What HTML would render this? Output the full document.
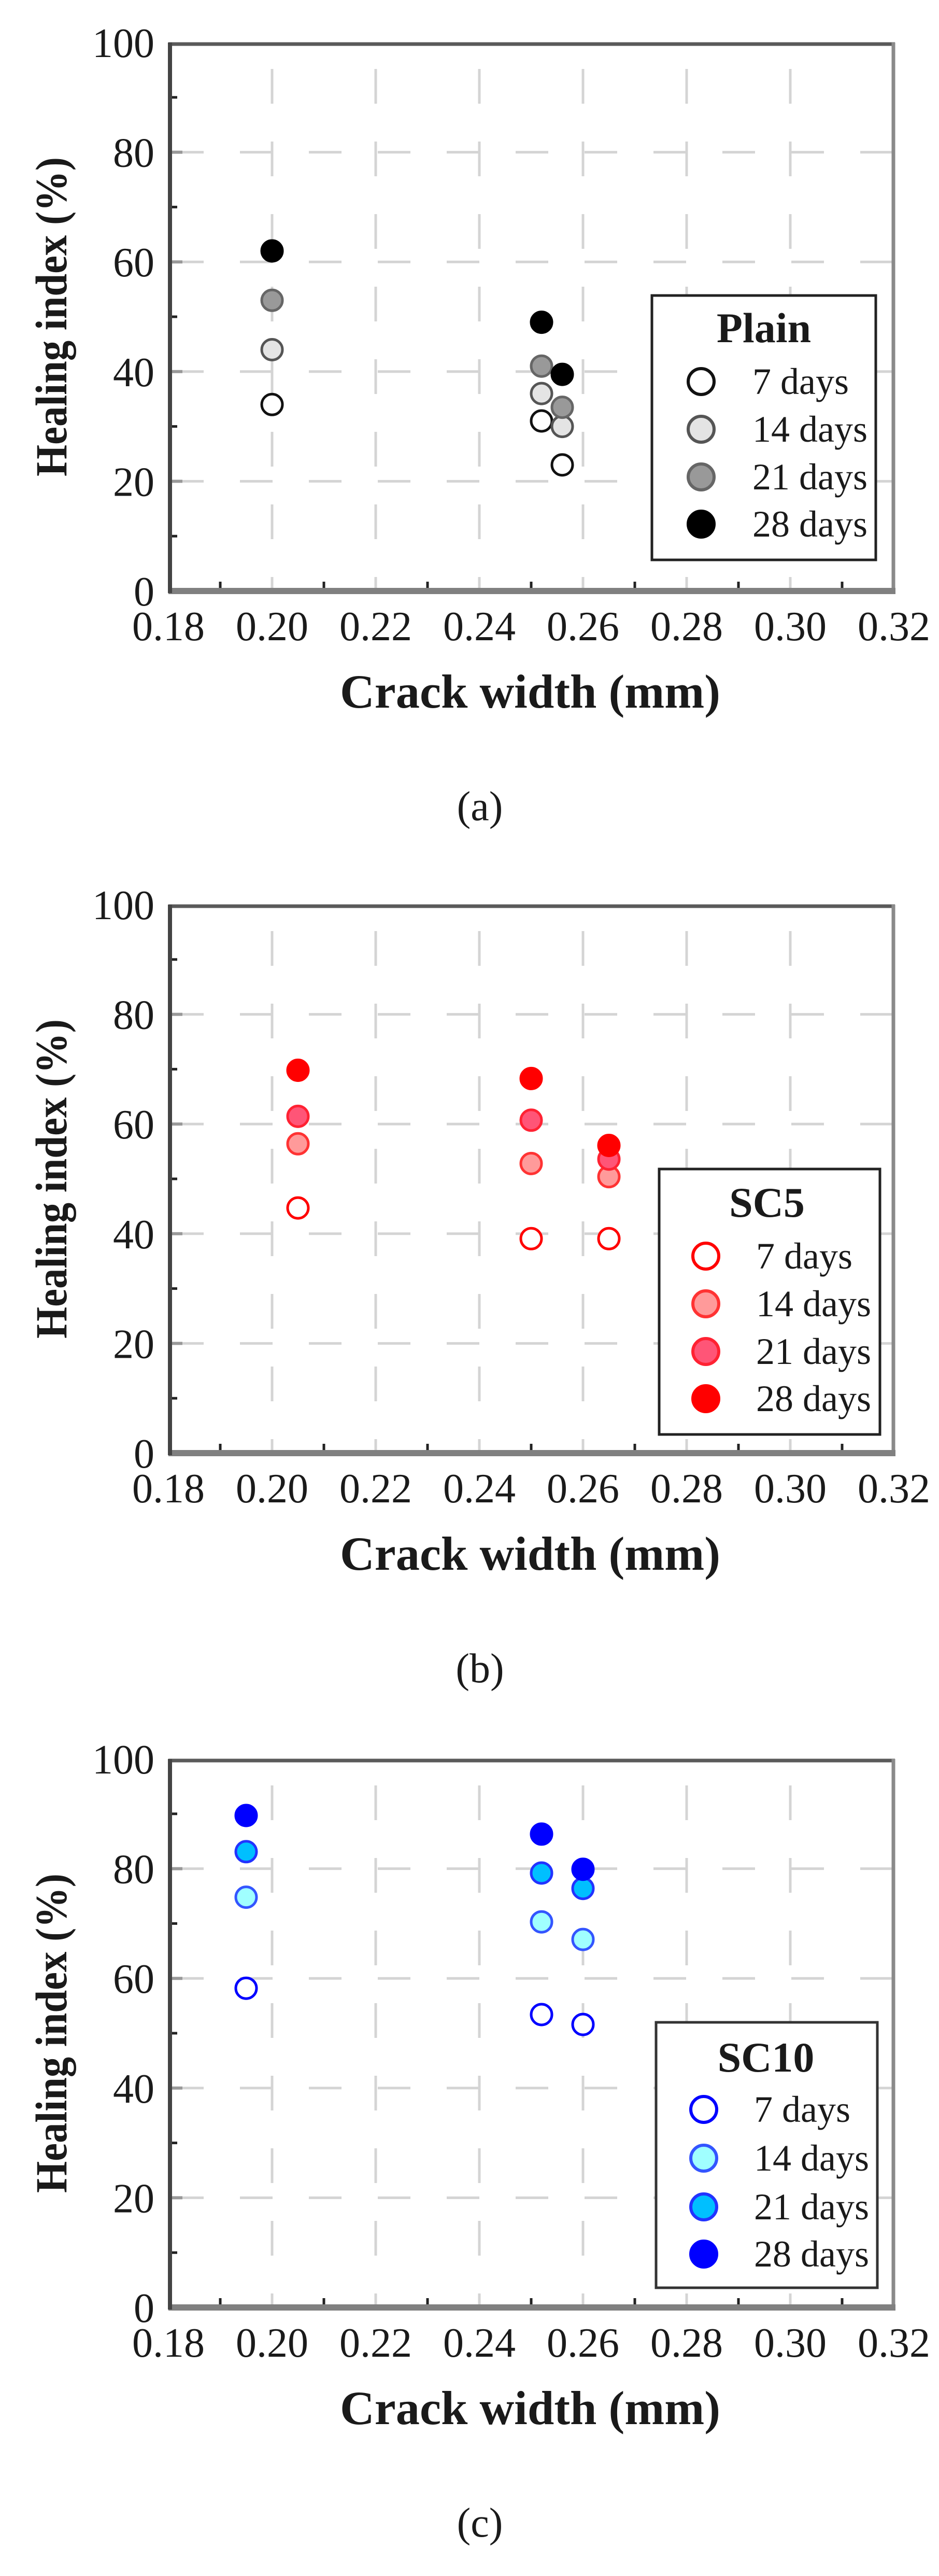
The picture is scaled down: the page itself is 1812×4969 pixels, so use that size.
<!DOCTYPE html>
<html><head><meta charset="utf-8"><style>
html,body{margin:0;padding:0;background:#fff;}
svg{display:block;}
text{font-family:"Liberation Serif",serif;fill:#1a1a1a;}
</style></head><body>
<svg width="1812" height="4969" viewBox="0 0 1812 4969" xmlns="http://www.w3.org/2000/svg">
<defs>
<g id="frame">
  <g stroke="#d4d4d4" stroke-width="5" stroke-dasharray="67 73">
    <line x1="525" y1="51" x2="525" y2="1058"/><line x1="725" y1="51" x2="725" y2="1058"/>
    <line x1="925" y1="51" x2="925" y2="1058"/><line x1="1125" y1="51" x2="1125" y2="1058"/>
    <line x1="1325" y1="51" x2="1325" y2="1058"/><line x1="1525" y1="51" x2="1525" y2="1058"/>
  </g>
  <g stroke="#d4d4d4" stroke-width="5" stroke-dasharray="63 70">
    <line x1="330" y1="211.6" x2="1725" y2="211.6"/><line x1="330" y1="423.2" x2="1725" y2="423.2"/>
    <line x1="330" y1="634.8" x2="1725" y2="634.8"/><line x1="330" y1="846.4" x2="1725" y2="846.4"/>
  </g>
  <g stroke="#999" stroke-width="6">
    <line x1="330" y1="211.6" x2="352" y2="211.6"/><line x1="330" y1="423.2" x2="352" y2="423.2"/>
    <line x1="330" y1="634.8" x2="352" y2="634.8"/><line x1="330" y1="846.4" x2="352" y2="846.4"/>
  </g>
  <g stroke="#222" stroke-width="5">
    <line x1="330" y1="105.8" x2="342" y2="105.8"/><line x1="330" y1="317.4" x2="342" y2="317.4"/>
    <line x1="330" y1="529" x2="342" y2="529"/><line x1="330" y1="740.6" x2="342" y2="740.6"/>
    <line x1="330" y1="952.2" x2="342" y2="952.2"/>
    <line x1="425" y1="1052" x2="425" y2="1040"/><line x1="625" y1="1052" x2="625" y2="1040"/>
    <line x1="825" y1="1052" x2="825" y2="1040"/><line x1="1025" y1="1052" x2="1025" y2="1040"/>
    <line x1="1225" y1="1052" x2="1225" y2="1040"/><line x1="1425" y1="1052" x2="1425" y2="1040"/>
    <line x1="1625" y1="1052" x2="1625" y2="1040"/>
  </g>
  <line x1="325" y1="3" x2="1727" y2="3" stroke="#5a5a5a" stroke-width="7"/>
  <line x1="1724" y1="0" x2="1724" y2="1058" stroke="#8a8a8a" stroke-width="7"/>
  <line x1="325" y1="1058" x2="1728" y2="1058" stroke="#808080" stroke-width="12"/>
  <line x1="328" y1="0" x2="328" y2="1062" stroke="#444" stroke-width="8"/>
  <g font-size="80" text-anchor="end" fill="#222">
    <text x="298" y="28">100</text><text x="298" y="239.6">80</text>
    <text x="298" y="451.2">60</text><text x="298" y="662.8">40</text>
    <text x="298" y="874.4">20</text><text x="298" y="1086">0</text>
  </g>
  <g font-size="80" text-anchor="middle" fill="#222">
    <text x="325" y="1153">0.18</text><text x="525" y="1153">0.20</text>
    <text x="725" y="1153">0.22</text><text x="925" y="1153">0.24</text>
    <text x="1125" y="1153">0.26</text><text x="1325" y="1153">0.28</text>
    <text x="1525" y="1153">0.30</text><text x="1725" y="1153">0.32</text>
  </g>
  <text x="1023" y="1283" font-size="92" font-weight="bold" text-anchor="middle" textLength="734" lengthAdjust="spacingAndGlyphs">Crack width (mm)</text>
  <text transform="translate(128,529) rotate(-90)" x="0" y="0" font-size="86" font-weight="bold" text-anchor="middle" textLength="616" lengthAdjust="spacingAndGlyphs">Healing index (%)</text>
</g>
</defs>

<!-- Panel a -->
<g transform="translate(0,82)">
  <use href="#frame"/>
  <g stroke-width="5">
    <circle cx="525" cy="698.3" r="20" fill="#fff" stroke="#111"/>
    <circle cx="525" cy="592.5" r="20" fill="#e4e4e4" stroke="#555"/>
    <circle cx="525" cy="497.3" r="20" fill="#999" stroke="#666"/>
    <circle cx="525" cy="402" r="20" fill="#000" stroke="#000"/>
    <circle cx="1045" cy="730" r="20" fill="#fff" stroke="#111"/>
    <circle cx="1045" cy="677.1" r="20" fill="#e4e4e4" stroke="#555"/>
    <circle cx="1045" cy="624.2" r="20" fill="#999" stroke="#666"/>
    <circle cx="1045" cy="539.6" r="20" fill="#000" stroke="#000"/>
    <circle cx="1085" cy="814.7" r="20" fill="#fff" stroke="#111"/>
    <circle cx="1085" cy="740.6" r="20" fill="#e4e4e4" stroke="#555"/>
    <circle cx="1085" cy="703.6" r="20" fill="#999" stroke="#666"/>
    <circle cx="1085" cy="640.1" r="20" fill="#000" stroke="#000"/>
  </g>
  <rect x="1258" y="488" width="432" height="510" fill="#fff" stroke="#222" stroke-width="5"/>
  <text x="1474" y="578" font-size="82" font-weight="bold" text-anchor="middle">Plain</text>
  <g stroke-width="6">
    <circle cx="1353" cy="654" r="25" fill="#fff" stroke="#111"/>
    <circle cx="1353" cy="746" r="25" fill="#e4e4e4" stroke="#555"/>
    <circle cx="1353" cy="838" r="25" fill="#999" stroke="#666"/>
    <circle cx="1353" cy="929" r="25" fill="#000" stroke="#000"/>
  </g>
  <g font-size="72" fill="#333">
    <text x="1452" y="678">7 days</text><text x="1452" y="770">14 days</text>
    <text x="1452" y="862">21 days</text><text x="1452" y="953">28 days</text>
  </g>
  <text x="926" y="1500" font-size="80" text-anchor="middle">(a)</text>
</g>

<!-- Panel b -->
<g transform="translate(0,1745)">
  <use href="#frame"/>
  <g stroke-width="5">
    <circle cx="575" cy="585.1" r="20" fill="#fff" stroke="#f00"/>
    <circle cx="575" cy="461.3" r="20" fill="#ff9a9a" stroke="#ff3333"/>
    <circle cx="575" cy="408.4" r="20" fill="#ff5577" stroke="#ff2233"/>
    <circle cx="575" cy="319.5" r="20" fill="#f00" stroke="#f00"/>
    <circle cx="1025" cy="644.3" r="20" fill="#fff" stroke="#f00"/>
    <circle cx="1025" cy="499.4" r="20" fill="#ff9a9a" stroke="#ff3333"/>
    <circle cx="1025" cy="415.8" r="20" fill="#ff5577" stroke="#ff2233"/>
    <circle cx="1025" cy="335.4" r="20" fill="#f00" stroke="#f00"/>
    <circle cx="1175" cy="644.3" r="20" fill="#fff" stroke="#f00"/>
    <circle cx="1175" cy="524.8" r="20" fill="#ff9a9a" stroke="#ff3333"/>
    <circle cx="1175" cy="490.9" r="20" fill="#ff5577" stroke="#ff2233"/>
    <circle cx="1175" cy="464.5" r="20" fill="#f00" stroke="#f00"/>
  </g>
  <rect x="1272" y="510" width="426" height="512" fill="#fff" stroke="#222" stroke-width="5"/>
  <text x="1480" y="602" font-size="82" font-weight="bold" text-anchor="middle">SC5</text>
  <g stroke-width="6">
    <circle cx="1362" cy="678" r="25" fill="#fff" stroke="#f00"/>
    <circle cx="1362" cy="770" r="25" fill="#ff9a9a" stroke="#ff3333"/>
    <circle cx="1362" cy="862" r="25" fill="#ff5577" stroke="#ff2233"/>
    <circle cx="1362" cy="953" r="25" fill="#f00" stroke="#f00"/>
  </g>
  <g font-size="72" fill="#333">
    <text x="1459" y="702">7 days</text><text x="1459" y="794">14 days</text>
    <text x="1459" y="886">21 days</text><text x="1459" y="977">28 days</text>
  </g>
  <text x="926" y="1500" font-size="80" text-anchor="middle">(b)</text>
</g>

<!-- Panel c -->
<g transform="translate(0,3393)">
  <use href="#frame"/>
  <g stroke-width="5">
    <circle cx="475" cy="442.2" r="20" fill="#fff" stroke="#00f"/>
    <circle cx="475" cy="266.6" r="20" fill="#a0ffff" stroke="#3355ff"/>
    <circle cx="475" cy="178.8" r="20" fill="#00bfff" stroke="#2233ff"/>
    <circle cx="475" cy="109" r="20" fill="#00f" stroke="#00f"/>
    <circle cx="1045" cy="493" r="20" fill="#fff" stroke="#00f"/>
    <circle cx="1045" cy="314.2" r="20" fill="#a0ffff" stroke="#3355ff"/>
    <circle cx="1045" cy="220" r="20" fill="#00bfff" stroke="#2233ff"/>
    <circle cx="1045" cy="144.9" r="20" fill="#00f" stroke="#00f"/>
    <circle cx="1125" cy="512.1" r="20" fill="#fff" stroke="#00f"/>
    <circle cx="1125" cy="348.1" r="20" fill="#a0ffff" stroke="#3355ff"/>
    <circle cx="1125" cy="249.7" r="20" fill="#00bfff" stroke="#2233ff"/>
    <circle cx="1125" cy="212.7" r="20" fill="#00f" stroke="#00f"/>
  </g>
  <rect x="1266" y="508" width="427" height="512" fill="#fff" stroke="#333" stroke-width="5"/>
  <text x="1478" y="603" font-size="82" font-weight="bold" text-anchor="middle">SC10</text>
  <g stroke-width="6">
    <circle cx="1358" cy="676" r="25" fill="#fff" stroke="#00f"/>
    <circle cx="1358" cy="770" r="25" fill="#a0ffff" stroke="#3355ff"/>
    <circle cx="1358" cy="864" r="25" fill="#00bfff" stroke="#2233ff"/>
    <circle cx="1358" cy="955" r="25" fill="#00f" stroke="#00f"/>
  </g>
  <g font-size="72" fill="#333">
    <text x="1455" y="700">7 days</text><text x="1455" y="794">14 days</text>
    <text x="1455" y="888">21 days</text><text x="1455" y="979">28 days</text>
  </g>
  <text x="926" y="1500" font-size="80" text-anchor="middle">(c)</text>
</g>
</svg>
</body></html>
